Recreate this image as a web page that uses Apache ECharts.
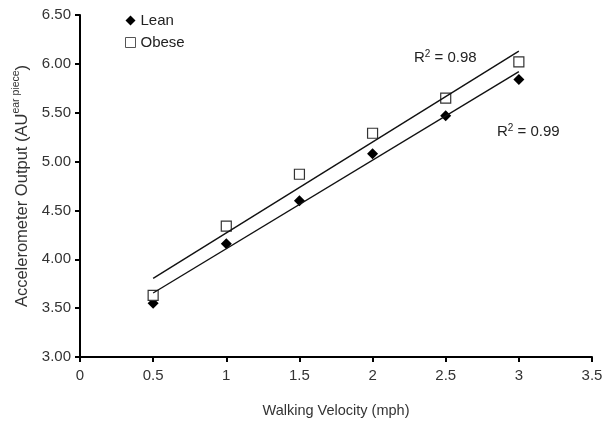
<!DOCTYPE html>
<html>
<head>
<meta charset="utf-8">
<script src="https://cdn.jsdelivr.net/npm/echarts@6/dist/echarts.min.js"></script>
<style>
  html, body { margin: 0; padding: 0; background: #fff; }
  #chart-container { width: 614px; height: 423px; }
</style>
</head>
<body>
<div id="chart-container"></div>
<script>
// walking speeds (mph)
var velocity = [0.5, 1, 1.5, 2, 2.5, 3];
var leanOutput = [3.55, 4.16, 4.60, 5.08, 5.47, 5.84];
var obeseOutput = [3.63, 4.34, 4.87, 5.29, 5.65, 6.02];
// fitted line ends
var leanFit = [[0.5, 3.655], [3, 5.92]];
var obeseFit = [[0.5, 3.805], [3, 6.13]];
var xTicks = [0, 0.5, 1, 1.5, 2, 2.5, 3, 3.5];

function pairs(xs, ys) {
  return xs.map(function (x, i) { return [x, ys[i]]; });
}

var dom = document.getElementById('chart-container');
var myChart = echarts.init(dom, null, { renderer: 'canvas' });

var font = 'Liberation Sans, Arial, sans-serif';
var option = {
  backgroundColor: '#fff',
  animation: false,
  textStyle: { fontFamily: font },
  grid: { left: 80, right: 22, top: 15, bottom: 66 },
  legend: {
    orient: 'vertical',
    left: 120,
    top: 8,
    itemWidth: 10,
    itemHeight: 10,
    itemGap: 7,
    data: [
      { name: 'Lean', icon: 'diamond', itemStyle: { color: '#000' } },
      { name: 'Obese', icon: 'rect', itemStyle: { color: '#fff', borderColor: '#555', borderWidth: 1 } }
    ],
    textStyle: { fontSize: 15, color: '#222', fontFamily: font }
  },
  xAxis: {
    type: 'value',
    min: 0,
    max: 3.5,
    interval: 0.5,
    name: 'Walking Velocity (mph)',
    nameLocation: 'middle',
    nameGap: 46,
    nameTextStyle: { fontSize: 14.5, color: '#333', fontFamily: font },
    splitLine: { show: false },
    axisLine: { lineStyle: { color: '#000', width: 2 } },
    axisTick: { length: 5, lineStyle: { color: '#000', width: 2 } },
    axisLabel: {
      fontSize: 15, color: '#333', margin: 11,
      formatter: function (v) { return xTicks.indexOf(v) >= 0 ? String(v) : ''; }
    }
  },
  yAxis: {
    type: 'value',
    min: 3,
    max: 6.5,
    interval: 0.5,
    name: 'Accelerometer Output (AU{sup|ear piece})',
    nameLocation: 'middle',
    nameRotate: 90,
    nameGap: 46,
    nameTextStyle: {
      fontSize: 16.5, color: '#333', fontFamily: font,
      rich: { sup: { fontSize: 10.5, color: '#333', verticalAlign: 'top', padding: [0, 0, 12, 0] } }
    },
    splitLine: { show: false },
    axisLine: { show: true, lineStyle: { color: '#000', width: 2 } },
    axisTick: { show: true, length: 5, lineStyle: { color: '#000', width: 2 } },
    axisLabel: {
      fontSize: 15, color: '#333', margin: 9,
      formatter: function (v) { return v.toFixed(2); }
    }
  },
  graphic: [
    {
      type: 'text', left: 414, top: 49,
      style: {
        text: 'R{s|2} = 0.98',
        font: '15px ' + font, fill: '#222',
        rich: { s: { fontSize: 10, verticalAlign: 'top', padding: [0, 0, 8, 0] } }
      }
    },
    {
      type: 'text', left: 497, top: 123,
      style: {
        text: 'R{s|2} = 0.99',
        font: '15px ' + font, fill: '#222',
        rich: { s: { fontSize: 10, verticalAlign: 'top', padding: [0, 0, 8, 0] } }
      }
    }
  ],
  series: [
    {
      name: 'LeanFit', type: 'line', data: leanFit, symbol: 'none',
      lineStyle: { color: '#111', width: 1.4 }, silent: true
    },
    {
      name: 'ObeseFit', type: 'line', data: obeseFit, symbol: 'none',
      lineStyle: { color: '#111', width: 1.4 }, silent: true
    },
    {
      name: 'Lean', type: 'scatter', data: pairs(velocity, leanOutput),
      symbol: 'diamond', symbolSize: 11,
      itemStyle: { color: '#000', opacity: 1 }
    },
    {
      name: 'Obese', type: 'scatter', data: pairs(velocity, obeseOutput),
      symbol: 'rect', symbolSize: 10,
      itemStyle: { color: '#fff', borderColor: '#333', borderWidth: 1.2, opacity: 1 }
    }
  ]
};

myChart.setOption(option);
window.addEventListener('resize', myChart.resize);
</script>
</body>
</html>
